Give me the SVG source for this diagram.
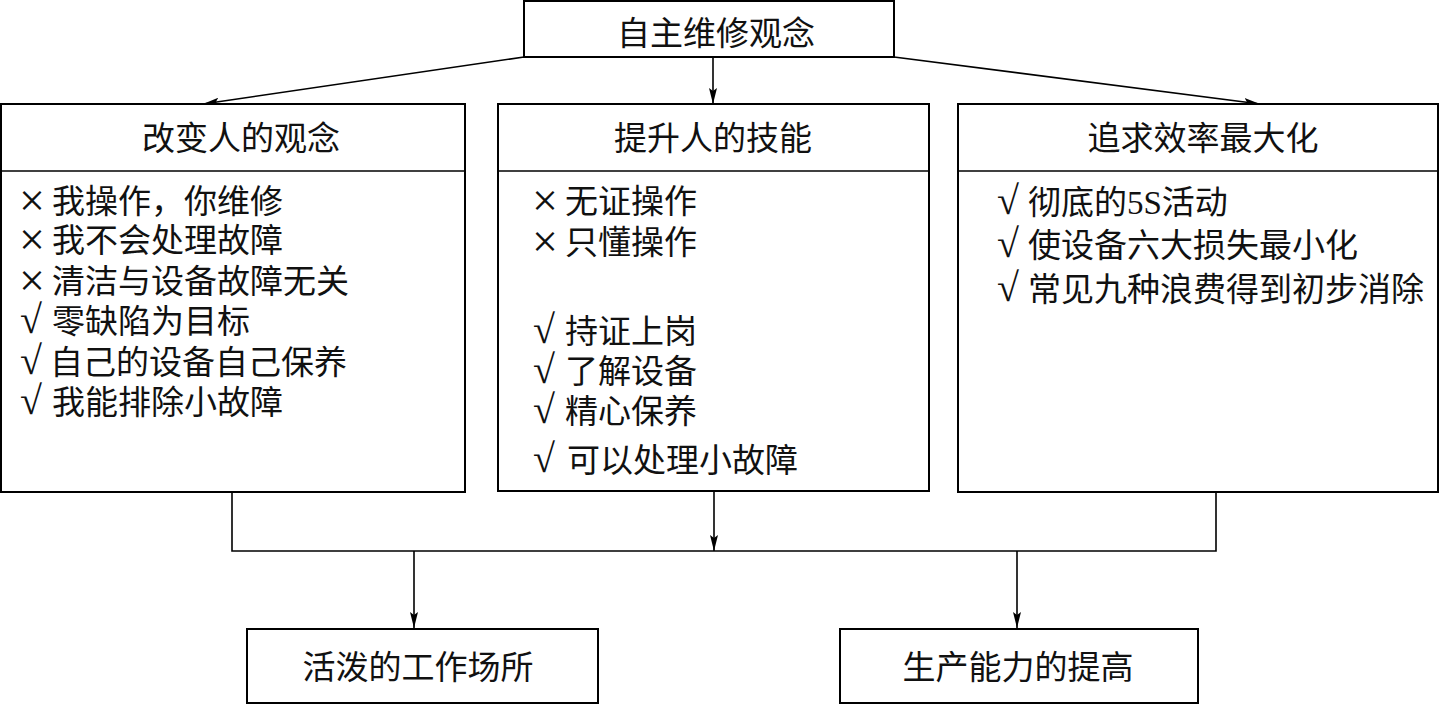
<svg xmlns="http://www.w3.org/2000/svg" width="1440" height="706" viewBox="0 0 1440 706">
<defs>
<marker id="arr" markerUnits="userSpaceOnUse" markerWidth="16" markerHeight="8" refX="16" refY="4" orient="auto">
<path d="M0,0 L16,4 L0,8 L3,4 z" fill="#000"/>
</marker>
<style>
.box{fill:#fff;stroke:#000;stroke-width:2}
.ln{fill:none;stroke:#000;stroke-width:1.6}
.t{font-family:"Liberation Serif","Noto Sans CJK SC",serif;font-size:33px;fill:#111}
.c{text-anchor:middle}
.x{font-size:46px}
.v{font-size:40px}
</style>
</defs>
<rect width="1440" height="706" fill="#fff"/>
<g id="connectors">
<line class="ln" x1="524" y1="57" x2="203" y2="104" marker-end="url(#arr)"/>
<line class="ln" x1="713" y1="57" x2="713" y2="104" marker-end="url(#arr)"/>
<line class="ln" x1="894" y1="57" x2="1260" y2="104" marker-end="url(#arr)"/>
<polyline class="ln" points="232,492 232,551 1216,551 1216,492"/>
<line class="ln" x1="714" y1="492" x2="714" y2="551" marker-end="url(#arr)"/>
<line class="ln" x1="414" y1="551" x2="414" y2="628" marker-end="url(#arr)"/>
<line class="ln" x1="1017" y1="551" x2="1017" y2="628" marker-end="url(#arr)"/>
</g>
<g id="top">
<rect class="box" x="524" y="1" width="370" height="56"/>
<text class="t c" x="716" y="45">自主维修观念</text>
</g>
<g id="left">
<rect class="box" x="1" y="104" width="464" height="388"/>
<line class="ln" x1="1" y1="171" x2="465" y2="171" stroke-width="2"/>
<text class="t c" x="241" y="150">改变人的观念</text>
<text class="t"><tspan class="x" x="19" y="216">×</tspan><tspan x="52" y="213">我操作，你维修</tspan></text>
<text class="t"><tspan class="x" x="19" y="255">×</tspan><tspan x="52" y="252">我不会处理故障</tspan></text>
<text class="t"><tspan class="x" x="19" y="296">×</tspan><tspan x="52" y="293">清洁与设备故障无关</tspan></text>
<text class="t"><tspan class="v" x="20" y="333">√</tspan><tspan x="52">零缺陷为目标</tspan></text>
<text class="t"><tspan class="v" x="20" y="374">√</tspan><tspan x="50">自己的设备自己保养</tspan></text>
<text class="t"><tspan class="v" x="20" y="414">√</tspan><tspan x="52">我能排除小故障</tspan></text>
</g>
<g id="middle">
<rect class="box" x="498" y="104" width="431" height="387"/>
<line class="ln" x1="498" y1="171" x2="929" y2="171" stroke-width="2"/>
<text class="t c" x="713" y="150">提升人的技能</text>
<text class="t"><tspan class="x" x="532" y="216">×</tspan><tspan x="565" y="213">无证操作</tspan></text>
<text class="t"><tspan class="x" x="532" y="257">×</tspan><tspan x="565" y="254">只懂操作</tspan></text>
<text class="t"><tspan class="v" x="533" y="343">√</tspan><tspan x="565">持证上岗</tspan></text>
<text class="t"><tspan class="v" x="533" y="383">√</tspan><tspan x="565">了解设备</tspan></text>
<text class="t"><tspan class="v" x="533" y="423">√</tspan><tspan x="565">精心保养</tspan></text>
<text class="t"><tspan class="v" x="533" y="472">√</tspan><tspan x="567">可以处理小故障</tspan></text>
</g>
<g id="right">
<rect class="box" x="958" y="104" width="480" height="388"/>
<line class="ln" x1="958" y1="171" x2="1438" y2="171" stroke-width="2"/>
<text class="t c" x="1203" y="150">追求效率最大化</text>
<text class="t"><tspan class="v" x="997" y="214">√</tspan><tspan x="1028">彻底的5S活动</tspan></text>
<text class="t"><tspan class="v" x="997" y="257">√</tspan><tspan x="1028">使设备六大损失最小化</tspan></text>
<text class="t"><tspan class="v" x="997" y="301">√</tspan><tspan x="1028">常见九种浪费得到初步消除</tspan></text>
</g>
<g id="bottom-left">
<rect class="box" x="247" y="629" width="351" height="74"/>
<text class="t c" x="418" y="679">活泼的工作场所</text>
</g>
<g id="bottom-right">
<rect class="box" x="840" y="629" width="358" height="74"/>
<text class="t c" x="1018" y="679">生产能力的提高</text>
</g>
</svg>
